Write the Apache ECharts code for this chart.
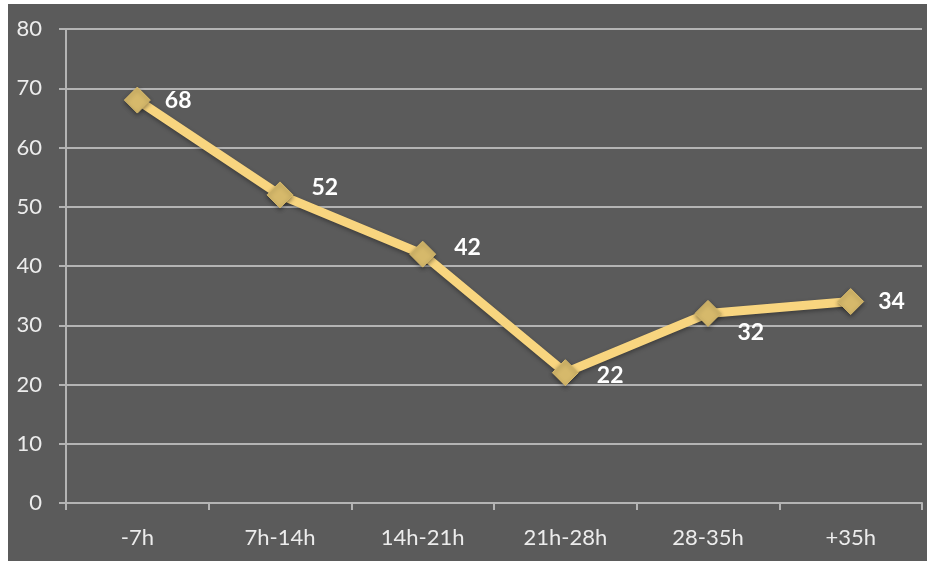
<!DOCTYPE html>
<html><head><meta charset="utf-8">
<script src="https://cdn.jsdelivr.net/npm/echarts@6/dist/echarts.min.js"></script>
<style>html,body{margin:0;padding:0;background:#fff;}#c{position:absolute;left:8px;top:4px;width:919px;height:557px;background:#5b5b5b;}</style>
</head><body><div id="c"></div>
<script>
const categories = ['-7h', '7h-14h', '14h-21h', '21h-28h', '28-35h', '+35h'];
const values = [68, 52, 42, 22, 32, 34];
const yTicks = [0, 10, 20, 30, 40, 50, 60, 70, 80];

const chart = echarts.init(document.getElementById('c'));
const data = values.map((v, i) => {
  const item = { value: v };
  if (i === 4) item.label = { position: 'right', offset: [2, 19] };
  if (i === 1 || i === 2) item.label = { position: 'right', offset: [4, -7] };
  if (i === 3) item.label = { position: 'right', offset: [4, 3] };
  return item;
});
chart.setOption({
  backgroundColor: '#5b5b5b',
  animation: false,
  grid: { left: 58, right: 5, top: 25, bottom: 58, containLabel: false },
  xAxis: {
    type: 'category', data: categories, boundaryGap: true,
    axisLine: { lineStyle: { color: '#b4b4b4', width: 2 } },
    axisTick: { show: true, length: 7, lineStyle: { color: '#b4b4b4', width: 2 } },
    axisLabel: { color: '#ececec', fontSize: 22, fontFamily: 'Lato', margin: 24 },
    splitLine: { show: false }
  },
  yAxis: {
    type: 'value', min: yTicks[0], max: yTicks[yTicks.length - 1], interval: 10,
    axisLine: { show: true, lineStyle: { color: '#b4b4b4', width: 2 } },
    axisTick: { show: true, length: 7, lineStyle: { color: '#b4b4b4', width: 2 } },
    axisLabel: { color: '#ececec', fontSize: 22, fontFamily: 'Lato', margin: 24 },
    splitLine: { show: true, lineStyle: { color: '#b4b4b4', width: 2 } }
  },
  series: [{
    type: 'line', data: data,
    lineStyle: { color: '#f8d57f', width: 9, shadowColor: 'rgba(0,0,0,0.35)', shadowBlur: 4, shadowOffsetY: 2 },
    symbol: 'diamond', symbolSize: 26,
    itemStyle: { color: '#d6b96b', borderColor: '#d6b96b', shadowColor: 'rgba(0,0,0,0.4)', shadowBlur: 4, shadowOffsetY: 2 },
    label: { show: true, position: 'right', distance: 14, color: '#ffffff', fontWeight: 'bold', fontSize: 23, fontFamily: 'Lato' }
  }]
});
</script></body></html>
